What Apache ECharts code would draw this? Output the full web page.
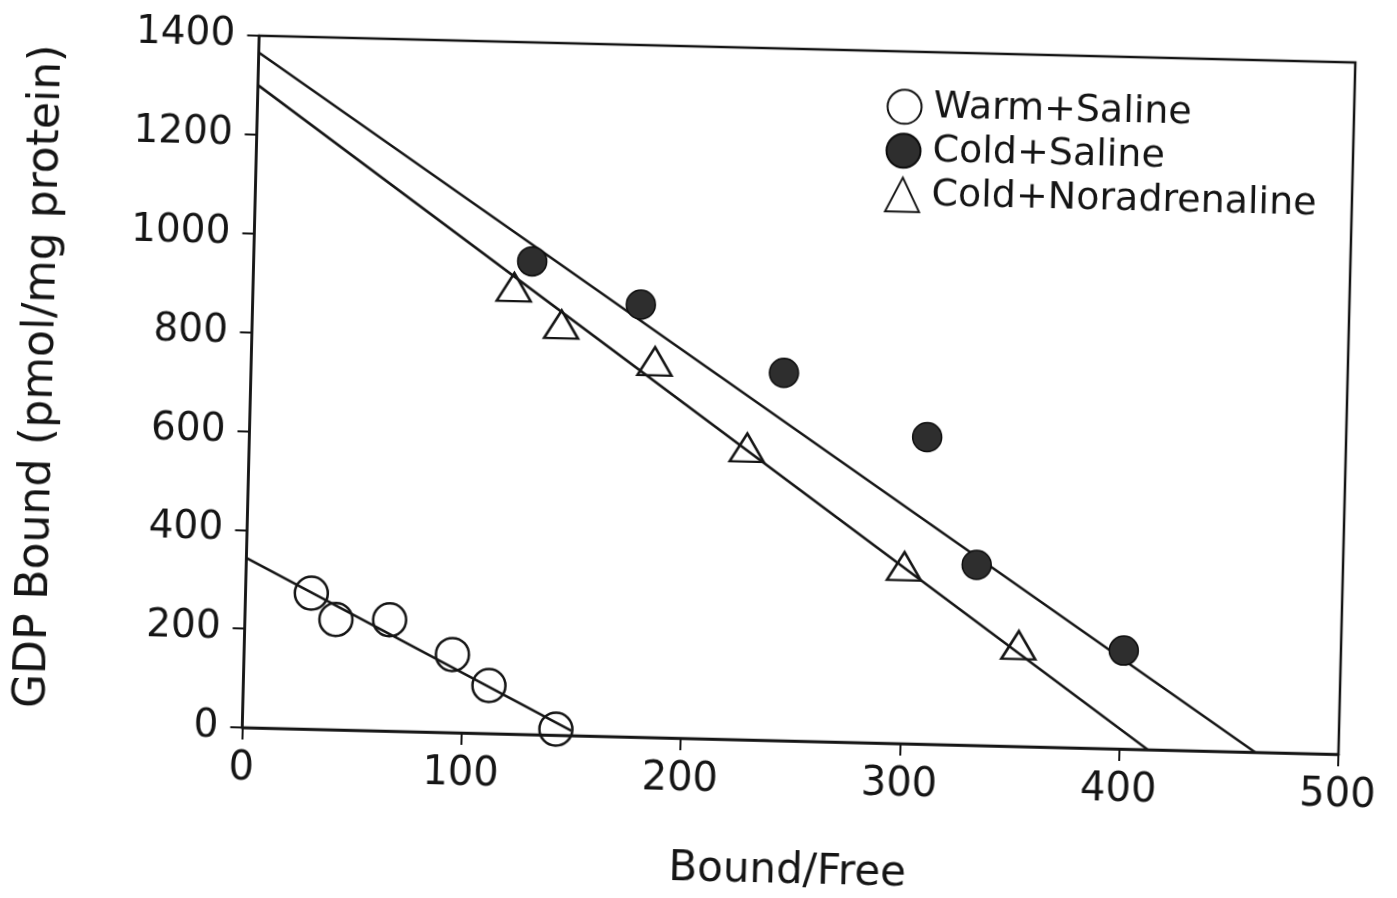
<!DOCTYPE html>
<html>
<head>
<meta charset="utf-8">
<title>GDP binding – Scatchard plot</title>
<script src="https://cdn.jsdelivr.net/npm/echarts@6/dist/echarts.min.js"></script>
<style>
  html, body { margin: 0; padding: 0; background: #ffffff; overflow: hidden; }
  #chart {
    width: 1397px; height: 898px;
    /* the printed figure sits slightly askew on the page */
    transform: rotate(1.4deg);
    transform-origin: 798.75px 396.4px;
  }
</style>
</head>
<body>
<div id="chart"></div>
<script>
// Scatchard plot: GDP bound vs bound/free, three treatment groups
const seriesNames = ['Warm+Saline', 'Cold+Saline', 'Cold+Noradrenaline'];

// measured points [bound/free, GDP bound]
const warmSaline = [[30, 275], [41.5, 223], [66, 225], [95, 158], [112, 97], [143, 12]];
const coldSaline = [[127, 957], [177, 875], [243, 744], [309, 621], [333, 365], [401, 199]];
const coldNoradrenaline = [[119, 904], [141, 831], [184, 761], [227, 591], [300, 359], [353, 205]];

// regression lines, given by their end points
const warmSalineFit = [[0, 343], [150, 10]];
const coldSalineFit = [[0, 1366], [462, 0]];
const coldNoradrenalineFit = [[0, 1300], [413, 0]];

// axis settings
const xTicks = { min: 0, max: 500, interval: 100 };
const yTicks = { min: 0, max: 1400, interval: 200 };
const xTitle = 'Bound/Free';
const yTitle = 'GDP Bound (pmol/mg protein)';

const FONT = "'DejaVu Sans', 'Liberation Sans', sans-serif";
const INK = '#151515';

const chart = echarts.init(document.getElementById('chart'), null, { renderer: 'canvas' });

function fitLine(data) {
  return {
    type: 'line',
    data: data,
    showSymbol: false,
    silent: true,
    z: 2,
    lineStyle: { color: INK, width: 2.6 },
    animation: false
  };
}

const axisCommon = {
  type: 'value',
  axisLine: { show: true, lineStyle: { color: INK, width: 2.5 } },
  axisTick: { show: true, inside: false, length: 12, lineStyle: { color: INK, width: 2 } },
  splitLine: { show: false }
};

const plainNumber = (v) => String(v);

chart.setOption({
  backgroundColor: '#ffffff',
  animation: false,
  grid: {
    left: 250.5, top: 48.9, width: 1096.5, height: 695,
    show: true, borderColor: INK, borderWidth: 2.5, backgroundColor: 'transparent'
  },
  legend: {
    orient: 'vertical',
    left: 874.5,
    top: 76,
    itemGap: -2.8,
    itemWidth: 34,
    itemHeight: 34,
    data: seriesNames,
    textStyle: { fontFamily: FONT, fontSize: 38, color: INK, lineHeight: 46.7, padding: [0, 0, 0, 7] },
    selectedMode: false
  },
  xAxis: Object.assign({}, axisCommon, {
    min: xTicks.min, max: xTicks.max, interval: xTicks.interval,
    axisLabel: { fontFamily: FONT, fontSize: 40, color: INK, margin: 22, formatter: plainNumber },
    name: xTitle,
    nameLocation: 'middle',
    nameGap: 110,
    nameTextStyle: { fontFamily: FONT, fontSize: 42, color: INK }
  }),
  yAxis: Object.assign({}, axisCommon, {
    min: yTicks.min, max: yTicks.max, interval: yTicks.interval,
    axisLabel: { fontFamily: FONT, fontSize: 39, color: INK, margin: 24, formatter: plainNumber },
    name: yTitle,
    nameLocation: 'middle',
    nameRotate: 90,
    nameGap: 188,
    nameTextStyle: { fontFamily: FONT, fontSize: 44, color: INK }
  }),
  series: [
    fitLine(warmSalineFit),
    fitLine(coldSalineFit),
    fitLine(coldNoradrenalineFit),
    {
      name: seriesNames[0],
      type: 'scatter',
      data: warmSaline,
      symbol: 'circle',
      symbolSize: 33,
      z: 3,
      itemStyle: { color: 'rgba(255,255,255,0)', borderColor: INK, borderWidth: 2.5, opacity: 1 }
    },
    {
      name: seriesNames[1],
      type: 'scatter',
      data: coldSaline,
      symbol: 'circle',
      symbolSize: 29,
      z: 3,
      itemStyle: { color: '#2e2e2e', borderColor: '#0d0d0d', borderWidth: 1.5, opacity: 1 }
    },
    {
      name: seriesNames[2],
      type: 'scatter',
      data: coldNoradrenaline,
      symbol: 'triangle',
      symbolSize: [34, 28],
      z: 3,
      itemStyle: { color: 'rgba(255,255,255,0)', borderColor: INK, borderWidth: 2.5, opacity: 1 }
    }
  ]
});
</script>
</body>
</html>
